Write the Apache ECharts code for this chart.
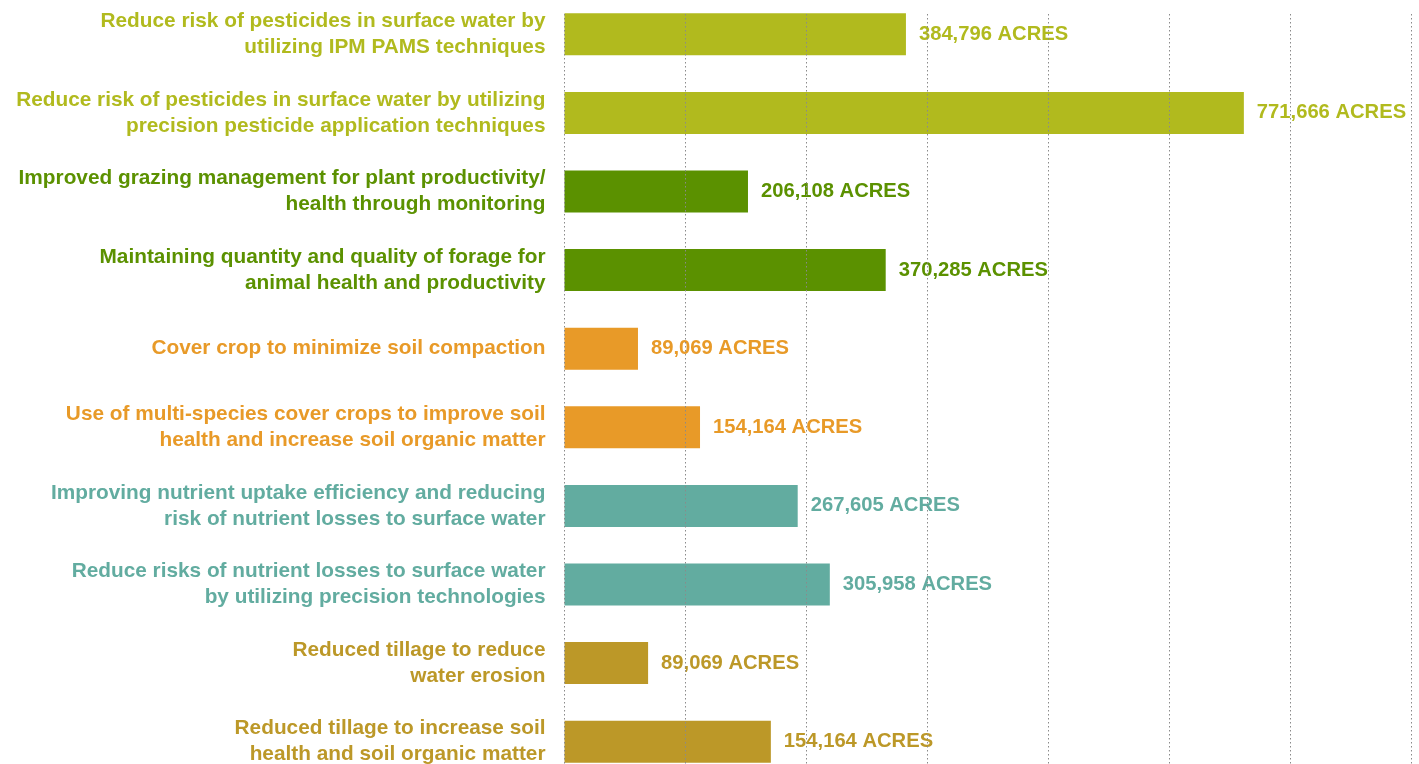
<!DOCTYPE html>
<html>
<head>
<meta charset="utf-8">
<script src="https://cdn.jsdelivr.net/npm/echarts@6/dist/echarts.min.js"></script>
<style>
  html, body { margin: 0; padding: 0; background: #ffffff; overflow: hidden; width: 1419px; height: 764px; position: relative; }
  #chart { position: absolute; left: 0; top: -5px; width: 1419px; height: 786px; }
</style>
</head>
<body>
<div id="chart"></div>
<script>
// Categories (top to bottom)
const categories = [
  'Reduce risk of pesticides in surface water by\nutilizing IPM PAMS techniques',
  'Reduce risk of pesticides in surface water by utilizing\nprecision pesticide application techniques',
  'Improved grazing management for plant productivity/\nhealth through monitoring',
  'Maintaining quantity and quality of forage for\nanimal health and productivity',
  'Cover crop to minimize soil compaction',
  'Use of multi-species cover crops to improve soil\nhealth and increase soil organic matter',
  'Improving nutrient uptake efficiency and reducing\nrisk of nutrient losses to surface water',
  'Reduce risks of nutrient losses to surface water\nby utilizing precision technologies',
  'Reduced tillage to reduce\nwater erosion',
  'Reduced tillage to increase soil\nhealth and soil organic matter'
];
// Printed acre values (labels)
const acres = [384796, 771666, 206108, 370285, 89069, 154164, 267605, 305958, 89069, 154164];
// Bar lengths as drawn in the picture (acres, estimated from bar extents)
const barLengths = [388000, 772000, 208500, 365000, 83500, 154000, 265000, 301500, 95000, 234500];
// Colour group of each category
const colorGroup = ['lime', 'lime', 'green', 'green', 'orange', 'orange', 'teal', 'teal', 'gold', 'gold'];
const palette = { lime: '#B1BA1E', green: '#5B9100', orange: '#E89A28', teal: '#62ACA0', gold: '#BC9828' };
// Gridline scale
const axisMax = 962500;
const axisInterval = 137500;

const colors = colorGroup.map(g => palette[g]);
const fontFamily = '"Liberation Sans", Arial, sans-serif';

const chart = echarts.init(document.getElementById('chart'), null, { renderer: 'canvas' });
chart.setOption({
  animation: false,
  backgroundColor: '#ffffff',
  grid: [
    { left: 564.5, right: 7.5, top: 0, bottom: 0, containLabel: false },
    { left: 564.5, right: 7.5, top: 19, bottom: 16, containLabel: false }
  ],
  xAxis: [
    { type: 'value', gridIndex: 0, min: 0, max: axisMax, interval: axisInterval, show: false },
    {
      type: 'value', gridIndex: 1, min: 0, max: axisMax, interval: axisInterval, z: 10,
      axisLine: { show: false }, axisTick: { show: false }, axisLabel: { show: false },
      splitLine: { show: true, lineStyle: { color: '#8a8a8a', width: 1, type: [1.5, 2.5] } }
    }
  ],
  yAxis: [
    {
      type: 'category', gridIndex: 0, data: categories, inverse: true,
      axisLine: { show: false }, axisTick: { show: false }, splitLine: { show: false },
      axisLabel: {
        margin: 19, align: 'right', fontSize: 20.8, fontWeight: 'bold', lineHeight: 26,
        fontFamily: fontFamily,
        color: (value, index) => colors[index]
      }
    },
    { type: 'value', gridIndex: 1, show: false }
  ],
  series: [
    {
      type: 'bar', xAxisIndex: 0, yAxisIndex: 0, barWidth: 42,
      data: barLengths.map((v, i) => ({ value: v, itemStyle: { color: colors[i] }, label: { color: colors[i] } })),
      label: {
        show: true, position: 'right', distance: 13,
        fontSize: 20.2, fontWeight: 'bold', fontFamily: fontFamily,
        formatter: p => acres[p.dataIndex].toLocaleString('en-US') + ' ACRES'
      }
    }
  ]
});
</script>
</body>
</html>
